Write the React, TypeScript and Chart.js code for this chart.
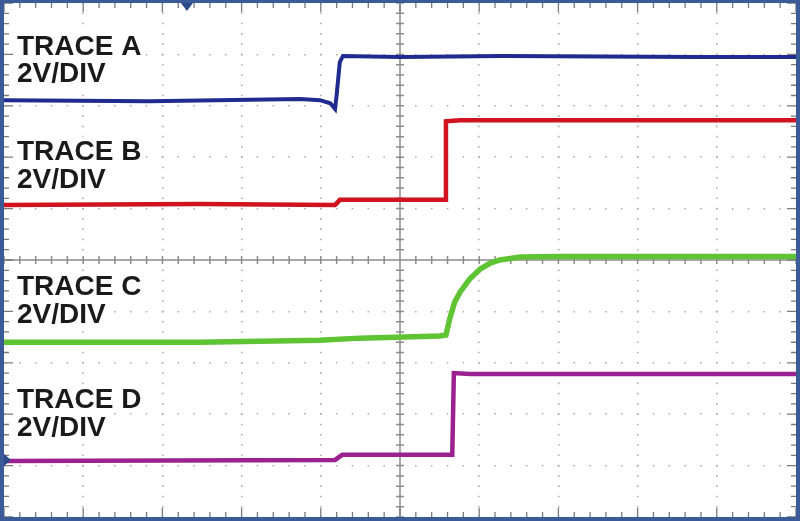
import React, { useEffect, useRef } from "react";
import { Chart, registerables } from "chart.js";

Chart.register(...registerables);

// x and y are in screen divisions (10 x 10 grid, y = 0 at bottom)
const traceAX = [0, 1.84, 3.74, 3.99, 4.12, 4.18, 4.2, 4.24, 4.28, 5.0, 6.3, 7.53, 8.8, 10];
const traceAY = [8.11, 8.09, 8.13, 8.11, 8.05, 7.94, 8.21, 8.85, 8.97, 8.95, 8.97, 8.96, 8.95, 8.95];

const traceBX = [0, 2.47, 4.18, 4.24, 5.57, 5.58, 5.76, 7.5, 10];
const traceBY = [6.07, 6.09, 6.07, 6.17, 6.17, 7.7, 7.72, 7.72, 7.72];

const traceCX = [0, 2.47, 3.99, 4.49, 5.5, 5.58, 5.63, 5.69, 5.76, 5.88, 6.01, 6.14, 6.26, 6.52, 7.02, 10];
const traceCY = [3.4, 3.4, 3.44, 3.48, 3.52, 3.54, 3.87, 4.18, 4.38, 4.63, 4.82, 4.94, 5.0, 5.06, 5.07, 5.07];

const traceDX = [0, 4.18, 4.27, 5.66, 5.68, 5.88, 10];
const traceDY = [1.09, 1.11, 1.21, 1.21, 2.8, 2.78, 2.78];

const labelLines = ["TRACE A", "2V/DIV", "TRACE B", "2V/DIV", "TRACE C", "2V/DIV", "TRACE D", "2V/DIV"];
const labelBaselines = [8.99, 8.46, 6.95, 6.4, 4.32, 3.77, 2.12, 1.58];

const triggerX = 2.31;
const markerY = 1.11;

const toPts = (xs: number[], ys: number[]) => xs.map((x, i) => ({ x, y: ys[i] }));

const scopePlugin = {
  id: "scope",
  beforeDatasetsDraw(chart: any) {
    const { ctx, chartArea: a, scales } = chart;
    const xs = scales.x;
    const ys = scales.y;
    ctx.save();
    ctx.font = 'bold 28px "Liberation Sans", Arial, sans-serif';
    ctx.textBaseline = "alphabetic";
    const lx = a.left + 13;
    labelLines.forEach((t, i) => {
      const by = ys.getPixelForValue(labelBaselines[i]);
      const w = ctx.measureText(t).width;
      ctx.fillStyle = "#ffffff";
      ctx.fillRect(lx - 3, by - 23, w + 6, 28);
    });
    ctx.fillStyle = "#1a1a1a";
    labelLines.forEach((t, i) => {
      const by = ys.getPixelForValue(labelBaselines[i]);
      ctx.fillText(t, lx, by);
    });

    const cx = xs.getPixelForValue(5);
    const cy = ys.getPixelForValue(5);
    ctx.strokeStyle = "#8c8c8c";
    ctx.lineWidth = 1.5;
    ctx.beginPath();
    ctx.moveTo(cx, a.top);
    ctx.lineTo(cx, a.bottom);
    ctx.moveTo(a.left, cy);
    ctx.lineTo(a.right, cy);
    for (let i = 0; i <= 50; i++) {
      const v = i * 0.2;
      const px = xs.getPixelForValue(v);
      const py = ys.getPixelForValue(v);
      ctx.moveTo(px, cy - 4);
      ctx.lineTo(px, cy + 4);
      ctx.moveTo(cx - 4, py);
      ctx.lineTo(cx + 4, py);
    }
    ctx.stroke();

    ctx.strokeStyle = "#7a7a7a";
    ctx.lineWidth = 1.3;
    ctx.beginPath();
    for (let i = 0; i <= 50; i++) {
      const v = i * 0.2;
      const px = xs.getPixelForValue(v);
      const py = ys.getPixelForValue(v);
      const len = i % 5 === 0 ? 9 : 5;
      ctx.moveTo(px, a.top);
      ctx.lineTo(px, a.top + len);
      ctx.moveTo(px, a.bottom);
      ctx.lineTo(px, a.bottom - len);
      ctx.moveTo(a.left, py);
      ctx.lineTo(a.left + len, py);
      ctx.moveTo(a.right, py);
      ctx.lineTo(a.right - len, py);
    }
    ctx.stroke();
    ctx.restore();
  },
  afterDatasetsDraw(chart: any) {
    const { ctx, chartArea: a, scales } = chart;
    ctx.save();
    ctx.strokeStyle = "#3b5a98";
    ctx.lineWidth = 4;
    ctx.strokeRect(a.left - 2, a.top - 2, a.right - a.left + 4, a.bottom - a.top + 4);
    const tx = scales.x.getPixelForValue(triggerX);
    ctx.fillStyle = "#2d4a8a";
    ctx.beginPath();
    ctx.moveTo(tx - 6, a.top);
    ctx.lineTo(tx + 6, a.top);
    ctx.lineTo(tx, a.top + 8);
    ctx.closePath();
    ctx.fill();
    const my = scales.y.getPixelForValue(markerY);
    ctx.beginPath();
    ctx.moveTo(a.left, my - 6);
    ctx.lineTo(a.left, my + 6);
    ctx.lineTo(a.left + 7, my);
    ctx.closePath();
    ctx.fill();
    ctx.restore();
  },
};

export default function App() {
  const ref = useRef<HTMLCanvasElement | null>(null);
  useEffect(() => {
    document.body.style.margin = "0";
    const canvas = ref.current;
    if (!canvas) return;
    const gridColor = (c: any) => {
      const v = c.tick && c.tick.value;
      return v === 0 || v === 5 || v === 10 ? "rgba(0,0,0,0)" : "#b0b0b0";
    };
    const chart = new Chart(canvas, {
      type: "scatter",
      data: {
        datasets: [
          { data: toPts(traceAX, traceAY), borderColor: "#1f2b8e", borderWidth: 4 },
          { data: toPts(traceBX, traceBY), borderColor: "#d1121f", borderWidth: 4.5 },
          { data: toPts(traceCX, traceCY), borderColor: "#5fc433", borderWidth: 5.5 },
          { data: toPts(traceDX, traceDY), borderColor: "#9c2190", borderWidth: 4.5 },
        ].map((d) => ({
          ...d,
          showLine: true,
          pointRadius: 0,
          tension: 0,
          borderJoinStyle: "miter" as const,
          borderCapStyle: "butt" as const,
        })),
      },
      options: {
        animation: false,
        responsive: false,
        events: [],
        layout: { padding: { left: 4, right: 4, top: 3, bottom: 4 } },
        plugins: { legend: { display: false }, tooltip: { enabled: false }, title: { display: false } },
        scales: {
          x: {
            type: "linear",
            min: 0,
            max: 10,
            ticks: { display: false, stepSize: 1 },
            grid: { color: gridColor, lineWidth: 1.6, drawTicks: false },
            border: { display: false, dash: [1.6, 8.68], dashOffset: 0.8 },
          },
          y: {
            type: "linear",
            min: 0,
            max: 10,
            ticks: { display: false, stepSize: 1 },
            grid: { color: gridColor, lineWidth: 1.6, drawTicks: false },
            border: { display: false, dash: [1.6, 14.24], dashOffset: 0.8 },
          },
        },
      },
      plugins: [scopePlugin],
    });
    return () => chart.destroy();
  }, []);
  return (
    <div style={{ width: 800, height: 521, background: "#fff" }}>
      <canvas ref={ref} width={800} height={521} style={{ display: "block" }} />
    </div>
  );
}
